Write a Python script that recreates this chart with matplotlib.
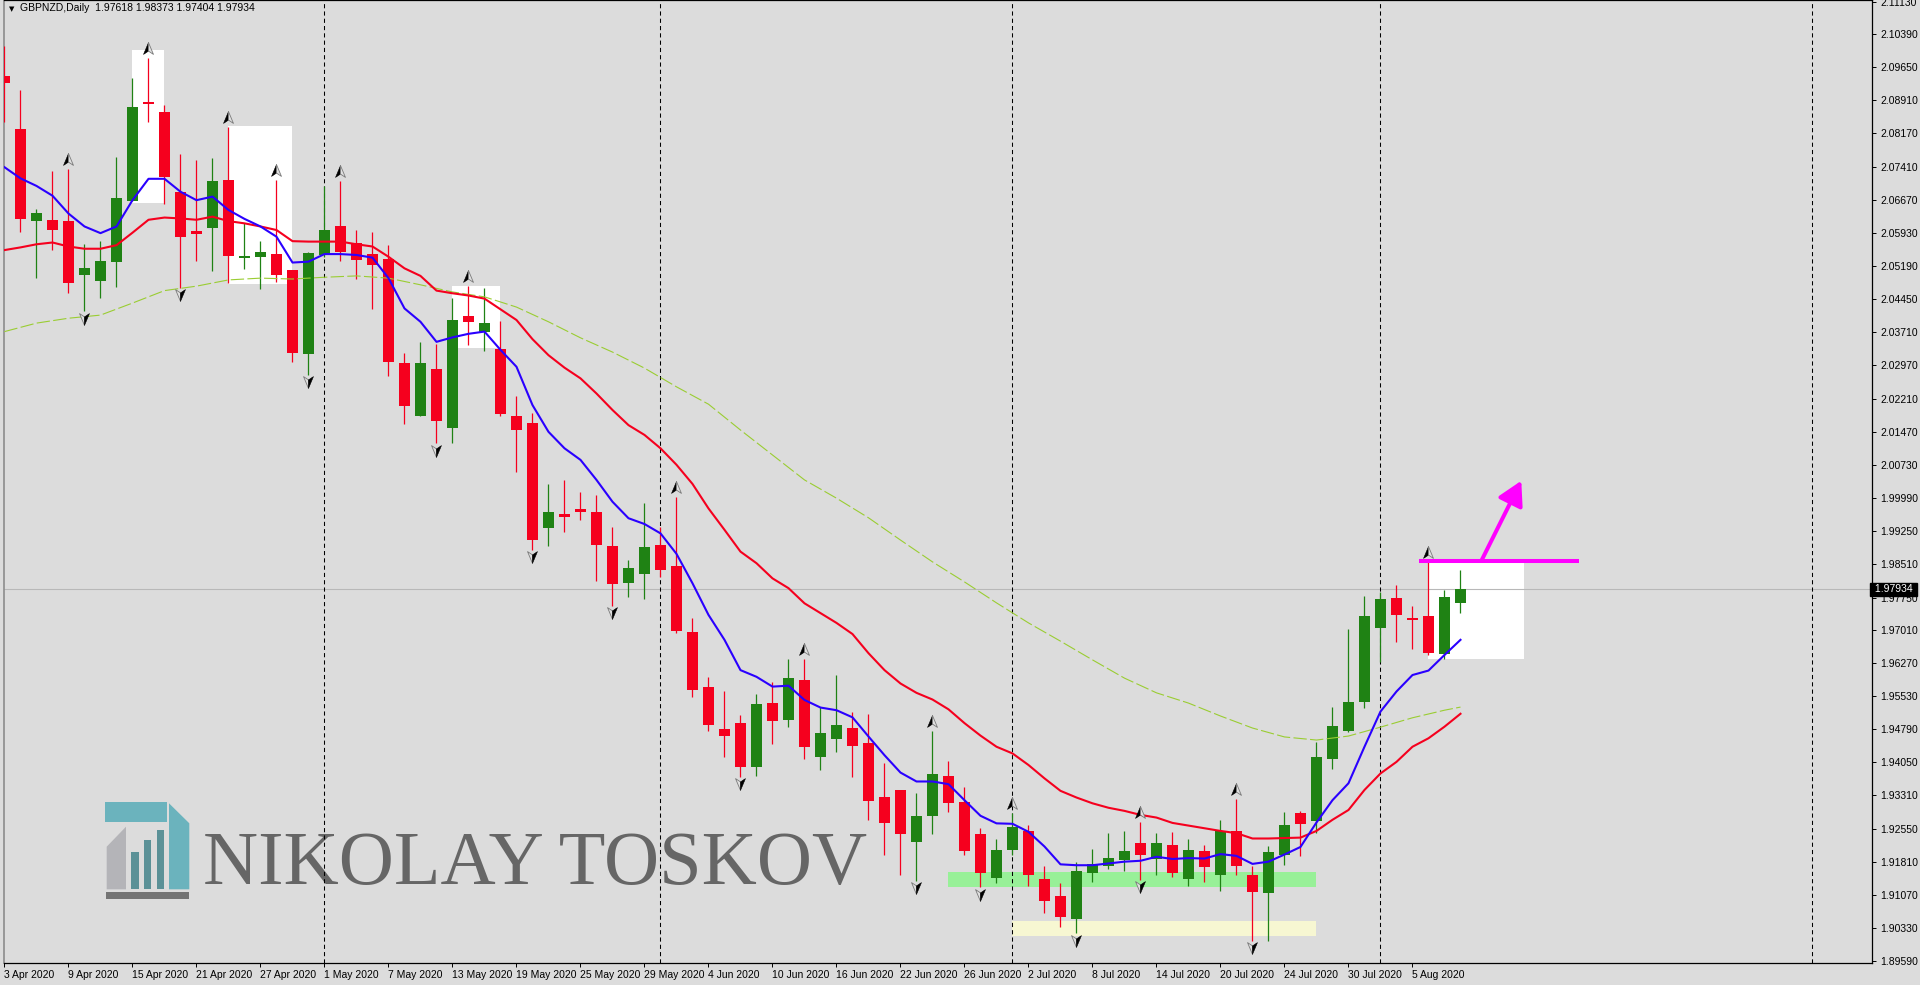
import matplotlib
matplotlib.use("Agg")
import matplotlib.pyplot as plt
import numpy as np
from matplotlib.patches import Rectangle, Polygon, FancyArrowPatch
from matplotlib.path import Path
from matplotlib.markers import MarkerStyle
from matplotlib.transforms import offset_copy

plt.rcParams['font.family'] = ['Liberation Sans', 'DejaVu Sans']

# ---- data --------------------------------------------------------------
header = "GBPNZD,Daily  1.97618 1.98373 1.97404 1.97934"
last_close = 1.97934

date_labels = ["3 Apr 2020", "9 Apr 2020", "15 Apr 2020", "21 Apr 2020", "27 Apr 2020",
               "1 May 2020", "7 May 2020", "13 May 2020", "19 May 2020", "25 May 2020",
               "29 May 2020", "4 Jun 2020", "10 Jun 2020", "16 Jun 2020", "22 Jun 2020",
               "26 Jun 2020", "2 Jul 2020", "8 Jul 2020", "14 Jul 2020", "20 Jul 2020",
               "24 Jul 2020", "30 Jul 2020", "5 Aug 2020"]
date_label_step = 4

price_ticks = [2.11130, 2.10390, 2.09650, 2.08910, 2.08170, 2.07410, 2.06670, 2.05930,
               2.05190, 2.04450, 2.03710, 2.02970, 2.02210, 2.01470, 2.00730, 1.99990,
               1.99250, 1.98510, 1.97750, 1.97010, 1.96270, 1.95530, 1.94790, 1.94050,
               1.93310, 1.92550, 1.91810, 1.91070, 1.90330, 1.89590]

opens = [2.0946, 2.0827, 2.0621, 2.0623, 2.0620, 2.0498, 2.0486, 2.0529, 2.0666, 2.0887,
         2.0865, 2.0685, 2.0598, 2.0605, 2.0712, 2.0538, 2.0540, 2.0546, 2.0510, 2.0321,
         2.0544, 2.0609, 2.0571, 2.0546, 2.0536, 2.0302, 2.0183, 2.0288, 2.0156, 2.0407,
         2.0372, 2.0333, 2.0183, 2.0167, 1.9930, 1.9963, 1.9974, 1.9967, 1.9891, 1.9808,
         1.9828, 1.9893, 1.9846, 1.9698, 1.9574, 1.9480, 1.9493, 1.9395, 1.9538, 1.9501,
         1.9590, 1.9418, 1.9458, 1.9482, 1.9448, 1.9327, 1.9343, 1.9227, 1.9285, 1.9374,
         1.9316, 1.9244, 1.9146, 1.9209, 1.9251, 1.9143, 1.9105, 1.9054, 1.9157, 1.9173,
         1.9186, 1.9224, 1.9189, 1.9219, 1.9144, 1.9206, 1.9153, 1.9251, 1.9152, 1.9112,
         1.9198, 1.9291, 1.9274, 1.9413, 1.9476, 1.9541, 1.9707, 1.9775, 1.9727, 1.9734,
         1.9649, 1.97618]
highs = [2.1013, 2.0914, 2.0647, 2.0733, 2.0737, 2.0569, 2.0576, 2.0764, 2.0942, 2.0986,
         2.0881, 2.0771, 2.0757, 2.0762, 2.0831, 2.0616, 2.0575, 2.0712, 2.0510, 2.0551,
         2.0699, 2.0710, 2.0600, 2.0596, 2.0566, 2.0324, 2.0349, 2.0344, 2.0448, 2.0474,
         2.0469, 2.0396, 2.0227, 2.0189, 2.0030, 2.0039, 2.0013, 2.0005, 1.9933, 1.9859,
         1.9987, 1.9933, 2.0001, 1.9729, 1.9597, 1.9565, 1.9511, 1.9558, 1.9585, 1.9637,
         1.9637, 1.9530, 1.9601, 1.9517, 1.9514, 1.9404, 1.9343, 1.9336, 1.9476, 1.9408,
         1.9350, 1.9258, 1.9232, 1.9292, 1.9264, 1.9172, 1.9133, 1.9181, 1.9210, 1.9246,
         1.9251, 1.9271, 1.9246, 1.9249, 1.9233, 1.9219, 1.9276, 1.9323, 1.9173, 1.9217,
         1.9294, 1.9296, 1.9451, 1.9529, 1.9704, 1.9778, 1.9788, 1.9803, 1.9757, 1.9855,
         1.9792, 1.98373]
lows = [2.0843, 2.0596, 2.0492, 2.0555, 2.0459, 2.0418, 2.0447, 2.0473, 2.0666, 2.0843,
        2.0658, 2.0470, 2.0531, 2.0509, 2.0480, 2.0513, 2.0468, 2.0484, 2.0304, 2.0275,
        2.0540, 2.0531, 2.0491, 2.0422, 2.0273, 2.0165, 2.0183, 2.0121, 2.0121, 2.0342,
        2.0329, 2.0183, 2.0057, 1.9882, 1.9891, 1.9921, 1.9949, 1.9812, 1.9757, 1.9777,
        1.9771, 1.9820, 1.9695, 1.9552, 1.9476, 1.9418, 1.9373, 1.9375, 1.9447, 1.9485,
        1.9413, 1.9388, 1.9429, 1.9371, 1.9276, 1.9198, 1.9153, 1.9139, 1.9245, 1.9294,
        1.9198, 1.9124, 1.9133, 1.9197, 1.9128, 1.9067, 1.9036, 1.9021, 1.9137, 1.9166,
        1.9161, 1.9141, 1.9151, 1.9148, 1.9128, 1.9137, 1.9117, 1.9151, 1.9005, 1.9005,
        1.9175, 1.9195, 1.9247, 1.9391, 1.9474, 1.9528, 1.9630, 1.9676, 1.9660, 1.9646,
        1.9636, 1.97404]
closes = [2.0931, 2.0625, 2.0638, 2.0601, 2.0480, 2.0515, 2.0531, 2.0672, 2.0876, 2.0882,
          2.0718, 2.0585, 2.0592, 2.0710, 2.0542, 2.0542, 2.0551, 2.0500, 2.0325, 2.0549,
          2.0600, 2.0551, 2.0533, 2.0522, 2.0304, 2.0206, 2.0302, 2.0172, 2.0398, 2.0394,
          2.0391, 2.0188, 2.0152, 1.9903, 1.9967, 1.9956, 1.9968, 1.9894, 1.9806, 1.9841,
          1.9888, 1.9837, 1.9700, 1.9568, 1.9489, 1.9465, 1.9395, 1.9536, 1.9498, 1.9594,
          1.9440, 1.9471, 1.9489, 1.9442, 1.9319, 1.9269, 1.9243, 1.9285, 1.9379, 1.9314,
          1.9207, 1.9157, 1.9208, 1.9260, 1.9151, 1.9094, 1.9058, 1.9161, 1.9177, 1.9190,
          1.9206, 1.9198, 1.9224, 1.9157, 1.9208, 1.9171, 1.9251, 1.9173, 1.9115, 1.9204,
          1.9264, 1.9267, 1.9417, 1.9487, 1.9541, 1.9734, 1.9772, 1.9736, 1.9725, 1.9651,
          1.9777, 1.97934]

# moving averages as drawn (blue fast, red medium, dashed slow)
ma_fast = [2.0741, 2.0716, 2.0699, 2.0677, 2.0637, 2.0608, 2.0593, 2.0608, 2.0667, 2.0715,
           2.0715, 2.0686, 2.0667, 2.0675, 2.0645, 2.0625, 2.0608, 2.0585, 2.0527, 2.0529,
           2.0546, 2.0546, 2.0544, 2.0538, 2.0492, 2.0424, 2.0394, 2.0349, 2.0359, 2.0367,
           2.0372, 2.0331, 2.0293, 2.0207, 2.0147, 2.0110, 2.0084, 2.0039, 1.9990, 1.9953,
           1.9940, 1.9919, 1.9873, 1.9807, 1.9736, 1.9680, 1.9612, 1.9597, 1.9575, 1.9577,
           1.9545, 1.9528, 1.9522, 1.9506, 1.9463, 1.9421, 1.9382, 1.9362, 1.9362, 1.9356,
           1.9320, 1.9285, 1.9268, 1.9267, 1.9249, 1.9216, 1.9176, 1.9174, 1.9174, 1.9178,
           1.9182, 1.9184, 1.9193, 1.9188, 1.9190, 1.9189, 1.9199, 1.9195, 1.9177, 1.9182,
           1.9198, 1.9215, 1.9270, 1.9320, 1.9358, 1.9440, 1.9519, 1.9564, 1.9601, 1.9611,
           1.9646, 1.9680]
ma_mid = [2.0555, 2.0561, 2.0568, 2.0572, 2.0563, 2.0558, 2.0558, 2.0566, 2.0594, 2.0623,
          2.0628, 2.0626, 2.0623, 2.0630, 2.0620, 2.0615, 2.0608, 2.0600, 2.0575, 2.0574,
          2.0574, 2.0574, 2.0568, 2.0563, 2.0540, 2.0514, 2.0497, 2.0464, 2.0458, 2.0453,
          2.0446, 2.0422, 2.0398, 2.0355, 2.0319, 2.0291, 2.0267, 2.0233, 2.0196, 2.0162,
          2.0140, 2.0110, 2.0073, 2.0030, 1.9975, 1.9927, 1.9878, 1.9852, 1.9818, 1.9796,
          1.9762, 1.9740, 1.9718, 1.9693, 1.9650, 1.9612, 1.9582, 1.9561, 1.9546, 1.9524,
          1.9493, 1.9465, 1.9440, 1.9425, 1.9399, 1.9369, 1.9341, 1.9326, 1.9313, 1.9303,
          1.9296, 1.9287, 1.9281, 1.9269, 1.9263, 1.9257, 1.9251, 1.9246, 1.9234, 1.9234,
          1.9235, 1.9236, 1.9251, 1.9276, 1.9298, 1.9343, 1.9380, 1.9406, 1.9440, 1.9459,
          1.9485, 1.9514]
ma_slow_bar = [0, 2, 4, 6, 8, 10, 12, 14, 16, 18, 20, 22, 24, 26, 28, 30, 32, 34, 36, 38,
               40, 42, 44, 46, 48, 50, 52, 54, 56, 58, 60, 62, 64, 66, 68, 70, 72, 74, 76,
               78, 80, 82, 84, 86, 88, 90, 91]
ma_slow = [2.0372, 2.0391, 2.0402, 2.0409, 2.0436, 2.0464, 2.0474, 2.0488, 2.0492, 2.0490,
           2.0494, 2.0497, 2.0492, 2.0477, 2.0461, 2.0450, 2.0427, 2.0394, 2.0358, 2.0326,
           2.0290, 2.0248, 2.0209, 2.0151, 2.0095, 2.0039, 1.9998, 1.9954, 1.9904, 1.9855,
           1.9810, 1.9763, 1.9718, 1.9677, 1.9635, 1.9594, 1.9561, 1.9538, 1.9509, 1.9482,
           1.9462, 1.9455, 1.9464, 1.9484, 1.9505, 1.9522, 1.9529]

fractal_up = [4, 9, 14, 17, 21, 29, 42, 50, 58, 63, 71, 77, 89]
fractal_down = [5, 11, 19, 27, 33, 38, 46, 57, 61, 67, 71, 78]
month_separators = [20, 41, 63, 86, 113]

# highlight boxes: bar from, bar to, price low, price high
box_from = [8, 14, 28, 89]
box_to = [10, 18, 31, 95]
box_low = [2.0660, 2.0479, 2.0336, 1.9637]
box_high = [2.1004, 2.0834, 2.0474, 1.9852]

support_zone = (59, 82, 1.9124, 1.9159)
low_zone = (63, 82, 1.9016, 1.9049)
breakout_level = (88.4, 98.4, 1.9856)
breakout_arrow = ((92.3, 1.9857), (94.8, 2.0037))

# ---- figure --------------------------------------------------------------
BG = '#dcdcdc'
GREEN = '#1f8214'
RED = '#f5001e'
W, H = 1920, 985

fig = plt.figure(figsize=(W / 100, H / 100), dpi=100, facecolor=BG)
ax = fig.add_axes([4 / W, 22 / H, 1868 / W, 963 / H])
ax.set_facecolor(BG)
ax.set_xlim(-0.031, 116.72)
ax.set_ylim(1.89545, 2.11164)

n = len(closes)
bars = np.arange(n)
o = np.array(opens)
c = np.array(closes)
hi = np.array(highs)
lo = np.array(lows)
colors = np.where(c >= o, GREEN, RED)

# boxes in the background
for x0, x1, y0, y1 in zip(box_from, box_to, box_low, box_high):
    ax.add_patch(Rectangle((x0, y0), x1 - x0, y1 - y0, facecolor='white',
                           edgecolor='none', zorder=1))
for (x0, x1, y0, y1), col in [(support_zone, '#98f098'), (low_zone, '#f7f7d2')]:
    ax.add_patch(Rectangle((x0, y0), x1 - x0, y1 - y0, facecolor=col,
                           edgecolor='none', zorder=1))

for s in month_separators:
    ax.axvline(s, color='black', lw=0.75, ls=(0, (4, 3)), zorder=1.5)
ax.axhline(last_close, color='#b8b8b8', lw=0.8, zorder=1.4)

# watermark
ax.text(203 / W, 1 - 884 / H, "NIKOLAY TOSKOV", transform=fig.transFigure,
        family=['Liberation Serif', 'DejaVu Serif'], fontsize=55, color='#666666',
        va='baseline', ha='left', zorder=1.2)


def px(pts):
    return [(x / W, 1 - y / H) for x, y in pts]


logo = [
    ([(105, 801.7), (166.7, 801.7), (166.7, 822.3), (105, 822.3)], '#6bb3bd'),
    ([(169, 803.3), (189.3, 823.3), (189.3, 889.3), (169, 889.3)], '#6bb3bd'),
    ([(106.7, 846.7), (126, 826.7), (126, 889.3), (106.7, 889.3)], '#b4b4b8'),
    ([(131, 851.7), (138.7, 851.7), (138.7, 889.3), (131, 889.3)], '#5b9197'),
    ([(144, 840), (151.3, 840), (151.3, 889.3), (144, 889.3)], '#5b9197'),
    ([(156.7, 830), (164, 830), (164, 889.3), (156.7, 889.3)], '#5b9197'),
    ([(106, 891.7), (189.3, 891.7), (189.3, 898.7), (106, 898.7)], '#747474'),
]
for pts, col in logo:
    ax.add_patch(Polygon(px(pts), closed=True, facecolor=col, edgecolor='none',
                         transform=fig.transFigure, zorder=1.2))

# candles
ax.vlines(bars, lo, hi, colors=colors, lw=0.9, zorder=3)
body_lo = np.minimum(o, c)
body_h = np.maximum(np.abs(c - o), 0.0003)
ax.bar(bars, body_h, bottom=body_lo, width=0.68, color=colors, lw=0, zorder=3.1)

# moving averages
ax.plot(ma_slow_bar, ma_slow, color='#9acd32', lw=0.8, ls=(0, (12, 3)), zorder=4)
ax.plot(bars, ma_mid, color='#f5001e', lw=1.5, zorder=4.1)
ax.plot(bars, ma_fast, color='#2a00ff', lw=1.5, zorder=4.2)

# fractal arrows
MOVE, LINE, CLOSE = Path.MOVETO, Path.LINETO, Path.CLOSEPOLY
left_up = Path([(0, 0.5), (-0.42, -0.5), (0, -0.22), (0, 0.5)], [MOVE, LINE, LINE, CLOSE])
right_up = Path([(0, 0.5), (0.42, -0.5), (0, -0.22), (0, 0.5)], [MOVE, LINE, LINE, CLOSE])
left_dn = Path([(0, -0.5), (-0.42, 0.5), (0, 0.22), (0, -0.5)], [MOVE, LINE, LINE, CLOSE])
right_dn = Path([(0, -0.5), (0.42, 0.5), (0, 0.22), (0, -0.5)], [MOVE, LINE, LINE, CLOSE])

up_tr = offset_copy(ax.transData, fig=fig, y=7.2, units='points')
dn_tr = offset_copy(ax.transData, fig=fig, y=-5.4, units='points')
fu = np.array(fractal_up)
fd = np.array(fractal_down)
ax.plot(fu, hi[fu], ls='none', marker=MarkerStyle(left_up), ms=8.5, mfc='black',
        mec='black', mew=0.4, transform=up_tr, zorder=5)
ax.plot(fu, hi[fu], ls='none', marker=MarkerStyle(right_up), ms=8.5, mfc='#e0e0e0',
        mec='#7a7a7a', mew=0.6, transform=up_tr, zorder=5)
ax.plot(fd, lo[fd], ls='none', marker=MarkerStyle(left_dn), ms=8.5, mfc='#e0e0e0',
        mec='#7a7a7a', mew=0.6, transform=dn_tr, zorder=5)
ax.plot(fd, lo[fd], ls='none', marker=MarkerStyle(right_dn), ms=8.5, mfc='black',
        mec='black', mew=0.4, transform=dn_tr, zorder=5)

# breakout level and arrow
bx0, bx1, by = breakout_level
ax.plot([bx0, bx1], [by, by], color='#ff00ff', lw=2.9, solid_capstyle='butt', zorder=6)
ax.add_patch(FancyArrowPatch(breakout_arrow[0], breakout_arrow[1],
                             arrowstyle='-|>,head_length=0.8,head_width=0.45',
                             mutation_scale=18, color='#ff00ff', lw=2.9,
                             shrinkA=0, shrinkB=0, zorder=6))

# axes styling
ax.yaxis.tick_right()
ax.set_yticks(price_ticks)
ax.set_yticklabels([f"{v:.5f}" for v in price_ticks])
ax.set_xticks(np.arange(len(date_labels)) * date_label_step)
ax.set_xticklabels(date_labels)
for lbl in ax.get_xticklabels():
    lbl.set_horizontalalignment('left')
ax.tick_params(axis='both', direction='out', length=3, width=0.7, labelsize=7.5,
               colors='black', pad=2)
ax.tick_params(axis='y', pad=3)
for side in ['top', 'right', 'bottom']:
    ax.spines[side].set_color('black')
    ax.spines[side].set_linewidth(0.9)
ax.spines['left'].set_color('#8c8c8c')
ax.spines['left'].set_linewidth(1.2)

ax.text(1.0, last_close, f" {last_close:.5f} ", transform=ax.get_yaxis_transform(),
        color='white', fontsize=7.5, va='center', ha='left', clip_on=False, zorder=10,
        bbox=dict(boxstyle='square,pad=0.15', facecolor='black', edgecolor='black'))

# header
fig.text(9 / W, 1 - 9 / H, "\u25bc", family=['DejaVu Sans'], fontsize=5, va='center')
fig.text(20 / W, 1 - 8 / H, header, fontsize=7.5, va='center', color='black')

fig.savefig("out.png", dpi=100, facecolor=BG)
